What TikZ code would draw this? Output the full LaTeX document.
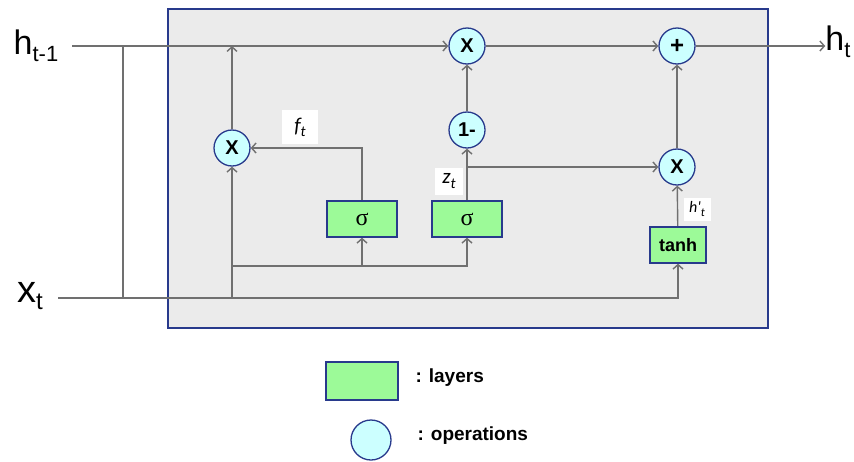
\documentclass[tikz,border=0pt]{standalone}
\usepackage{fontspec}
\setmainfont{Liberation Sans}
\newfontfamily\calib{Carlito}
\newfontfamily\serf{Liberation Serif}
\usetikzlibrary{arrows.meta}

\definecolor{navy}{RGB}{40,58,140}
\definecolor{cellgray}{RGB}{235,235,235}
\definecolor{wire}{RGB}{112,112,112}
\definecolor{layergreen}{RGB}{156,250,152}
\definecolor{opcyan}{RGB}{204,255,255}

\pgfdeclarelayer{cellbg}
\pgfdeclarelayer{wires}
\pgfsetlayers{cellbg,wires,main}

\tikzset{
  op/.style={circle, draw=navy, line width=1.3pt, fill=opcyan, minimum size=36pt, inner sep=0pt,
    font=\bfseries\fontsize{20}{20}\selectfont},
  layer/.style={rectangle, draw=navy, line width=1.3pt, fill=layergreen, minimum width=70pt,
    minimum height=36pt, inner sep=0pt},
  lbl/.style={fill=white, inner sep=0pt, font=\calib\itshape\fontsize{21}{21}\selectfont},
  wire/.style={draw=wire, line width=1.4pt},
  legend/.style={anchor=west, font=\bfseries\fontsize{19}{19}\selectfont}
}

\begin{document}
\begin{tikzpicture}[x=1pt, y=-1pt, >={Straight Barb[length=4.5pt,width=10pt]}]
\useasboundingbox (0,0) rectangle (854,461);
\begin{pgfonlayer}{cellbg}
\draw[draw=navy, line width=1.5pt, fill=cellgray] (168,9) rectangle (768,328);
\end{pgfonlayer}

% inputs and output
\node[inner sep=0pt] (hprev) at (36,46) {\fontsize{34}{34}\selectfont h\raisebox{-7pt}{\fontsize{22}{22}\selectfont t-1}};
\node[inner sep=0pt] (xt) at (30,296) {\fontsize{38}{38}\selectfont x\raisebox{-7pt}{\fontsize{24}{24}\selectfont t}};
\node[inner sep=0pt] (hnext) at (838,42) {\fontsize{34}{34}\selectfont h\raisebox{-7pt}{\fontsize{22}{22}\selectfont t}};
\coordinate (hl) at (72,46);
\coordinate (xl) at (58,298);
\coordinate (gy) at (232,266);
\coordinate (zy) at (467,167);

% operations
\node[op] (mulf) at (232,148) {X};
\node[op] (mulh) at (467,46) {X};
\node[op] (onem) at (467,130) {1-};
\node[op] (mulz) at (677,167) {X};
\node[op, font=\bfseries\fontsize{24}{24}\selectfont] (add) at (677,46) {+};

% layers
\node[layer] (sigf) at (362,219) {\serf\fontsize{24}{24}\selectfont σ};
\node[layer] (sigz) at (467,219) {\serf\fontsize{24}{24}\selectfont σ};
\node[layer, minimum width=56pt, minimum height=36pt, font=\bfseries\fontsize{18}{18}\selectfont] (tanh) at (678,245) {tanh};

% wires
\begin{pgfonlayer}{wires}
\draw[wire, ->] (hl) -- (mulh);
\draw[wire] (hl -| 123,0) -- (xl -| 123,0);
\draw[wire, ->] (xl) -| (tanh);
\draw[wire, ->] (mulf |- xl) -- (mulf);
\draw[wire, ->] (mulf) -- (mulf |- hl);
\draw[wire, ->] (gy) -| (sigz);
\draw[wire, ->] (sigf |- gy) -- (sigf);
\draw[wire, ->] (sigf) |- (mulf);
\draw[wire, ->] (sigz) -- (onem);
\draw[wire, ->] (onem) -- (mulh);
\draw[wire, ->] (zy) -- (mulz);
\draw[wire, ->] (mulh) -- (add);
\draw[wire, ->] (tanh) -- (mulz);
\draw[wire, ->] (mulz) -- (add);
\draw[wire, ->] (add) -- (add -| hnext.west);
\end{pgfonlayer}

% labels
\node[lbl, minimum width=36pt, minimum height=34pt] (flbl) at (300,127) {f\raisebox{-0.2em}{\fontsize{15}{15}\selectfont t}};
\node[lbl, minimum width=28pt, minimum height=27pt] (zlbl) at (449,181) {z\raisebox{-0.2em}{\fontsize{15}{15}\selectfont t}};
\node[lbl, minimum width=27pt, minimum height=23pt, font=\calib\itshape\fontsize{16}{16}\selectfont] (hlbl) at (697,209) {h\textquotesingle\raisebox{-0.2em}{\fontsize{12}{12}\selectfont t}};

% legend
\node[layer, minimum width=72pt, minimum height=38pt] (leglayer) at (362,381) {};
\node[legend] (legl) at (412,378) {: layers};
\node[op, minimum size=40pt] (legop) at (371,440) {};
\node[legend] (lego) at (414,436) {: operations};
\end{tikzpicture}
\end{document}
